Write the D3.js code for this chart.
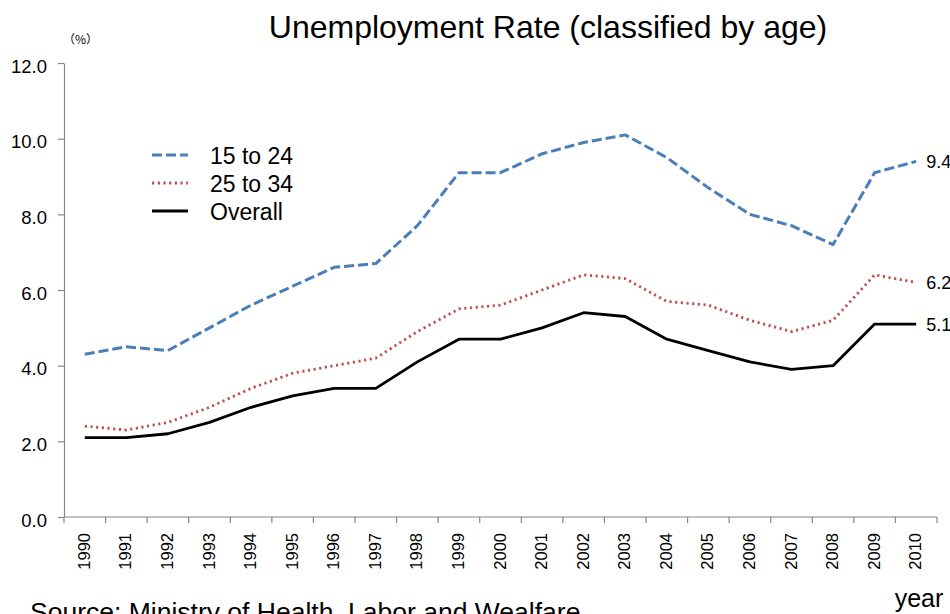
<!DOCTYPE html>
<html>
<head>
<meta charset="utf-8">
<script src="https://cdn.jsdelivr.net/npm/d3@7"></script>
<style>
  html, body { margin: 0; padding: 0; background: #fff; }
  svg { display: block; font-family: "Liberation Sans", Arial, sans-serif; }
</style>
</head>
<body>
<svg id="chart" width="950" height="614"></svg>
<script>
// Unemployment rate in Japan by age group, 1990–2010 (%)
const years = ["1990","1991","1992","1993","1994","1995","1996","1997","1998","1999","2000",
               "2001","2002","2003","2004","2005","2006","2007","2008","2009","2010"];
const age15to24 = [4.3,4.5,4.4,5.0,5.6,6.1,6.6,6.7,7.7,9.1,9.1,9.6,9.9,10.1,9.5,8.7,8.0,7.7,7.2,9.1,9.4];
const age25to34 = [2.4,2.3,2.5,2.9,3.4,3.8,4.0,4.2,4.9,5.5,5.6,6.0,6.4,6.3,5.7,5.6,5.2,4.9,5.2,6.4,6.2];
const overall   = [2.1,2.1,2.2,2.5,2.9,3.2,3.4,3.4,4.1,4.7,4.7,5.0,5.4,5.3,4.7,4.4,4.1,3.9,4.0,5.1,5.1];
const yTicks = [0, 2, 4, 6, 8, 10, 12];
const seriesNames = ["15 to 24", "25 to 34", "Overall"];

const series = [
  { name: seriesNames[0], values: age15to24, color: "#4A7EBB", width: 3,   dash: "10 4" },
  { name: seriesNames[1], values: age25to34, color: "#C0504D", width: 2.8, dash: "2.2 3.5" },
  { name: seriesNames[2], values: overall,   color: "#000000", width: 2.8, dash: null }
];

const svg = d3.select("#chart");
const margin = { left: 64, right: 13, top: 63, bottom: 97 };
const W = 950, H = 614;

const x = d3.scaleBand().domain(years).range([margin.left, W - margin.right]);
const y = d3.scaleLinear().domain([0, 12]).range([H - margin.bottom, margin.top]);
const cx = d => x(d) + x.bandwidth() / 2;

const axisColor = "#868686";

// Y axis
const yAxis = svg.append("g")
  .attr("transform", `translate(${margin.left},0)`)
  .call(d3.axisLeft(y).tickValues(yTicks).tickFormat(d3.format(".1f")).tickSize(6).tickSizeOuter(0).tickPadding(11));
yAxis.select(".domain").attr("stroke", axisColor).attr("stroke-width", 1.2);
yAxis.selectAll(".tick line").attr("stroke", axisColor).attr("stroke-width", 1.2);
yAxis.selectAll(".tick text").attr("font-size", 18.5).attr("fill", "#000")
  .attr("dy", "0.5em")
  .attr("font-family", "Liberation Sans, Arial, sans-serif");

// X axis: ticks at category boundaries
const xAxisG = svg.append("g").attr("transform", `translate(0,${y(0)})`);
xAxisG.append("line")
  .attr("x1", margin.left).attr("x2", W - margin.right)
  .attr("y1", 0).attr("y2", 0)
  .attr("stroke", axisColor).attr("stroke-width", 1.2);
const boundaries = years.map(d => x(d)).concat([x(years[years.length - 1]) + x.bandwidth()]);
xAxisG.selectAll("line.tk").data(boundaries).enter().append("line")
  .attr("class", "tk")
  .attr("x1", d => d).attr("x2", d => d)
  .attr("y1", 0).attr("y2", 6)
  .attr("stroke", axisColor).attr("stroke-width", 1.2);
xAxisG.selectAll("text").data(years).enter().append("text")
  .attr("transform", d => `translate(${cx(d) + 5},${16}) rotate(-90)`)
  .attr("text-anchor", "end")
  .attr("font-size", 16.5)
  .attr("fill", "#000")
  .text(d => d);

// Lines
const line = d3.line().x((v, i) => cx(years[i])).y(v => y(v));
svg.append("g").selectAll("path").data(series).enter().append("path")
  .attr("d", d => line(d.values))
  .attr("fill", "none")
  .attr("stroke", d => d.color)
  .attr("stroke-width", d => d.width)
  .attr("stroke-dasharray", d => d.dash)
  .attr("stroke-linejoin", "round");

// End-of-line value labels
svg.append("g").selectAll("text").data(series).enter().append("text")
  .attr("x", cx(years[years.length - 1]) + 10)
  .attr("y", d => y(d.values[d.values.length - 1]) + 7)
  .attr("font-size", 18)
  .attr("fill", "#000")
  .text(d => d3.format(".1f")(d.values[d.values.length - 1]));

// Legend
const legend = svg.append("g").attr("transform", "translate(152,155)");
series.forEach((s, i) => {
  const g = legend.append("g").attr("transform", `translate(0,${i * 28})`);
  g.append("line")
    .attr("x1", 0).attr("x2", 36).attr("y1", 0).attr("y2", 0)
    .attr("stroke", s.color)
    .attr("stroke-width", s.width)
    .attr("stroke-dasharray", s.dash);
  g.append("text")
    .attr("x", 58).attr("y", 9)
    .attr("font-size", 23)
    .attr("fill", "#000")
    .text(s.name);
});

// Title, unit, axis caption, source
svg.append("text")
  .attr("x", 548).attr("y", 38)
  .attr("text-anchor", "middle")
  .attr("font-size", 32)
  .attr("fill", "#000")
  .text("Unemployment Rate (classified by age)");

svg.append("text")
  .attr("x", 63).attr("y", 44)
  .attr("font-size", 12)
  .attr("font-family", "Noto Sans CJK JP, sans-serif")
  .attr("fill", "#000")
  .text("（%）");

svg.append("text")
  .attr("x", 919).attr("y", 607)
  .attr("text-anchor", "middle")
  .attr("font-size", 25)
  .attr("fill", "#000")
  .text("year");

svg.append("text")
  .attr("x", 30).attr("y", 621)
  .attr("font-size", 26.5)
  .attr("fill", "#000")
  .text("Source: Ministry of Health, Labor and Wealfare");
</script>
</body>
</html>
